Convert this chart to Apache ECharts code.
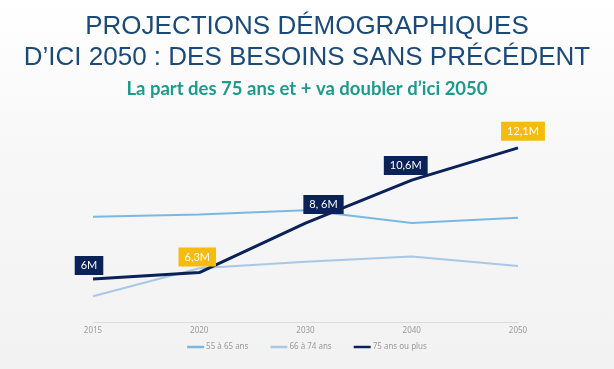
<!DOCTYPE html>
<html><head><meta charset="utf-8">
<script src="https://cdn.jsdelivr.net/npm/echarts@6/dist/echarts.min.js"></script>
<style>html,body{margin:0;padding:0;}#c{width:614px;height:369px;}</style>
</head><body><div id="c"></div>
<script>
const years = ['2015','2020','2030','2040','2050'];
const s55 = [8.9, 9.0, 9.2, 8.6, 8.85];
const s66 = [5.2, 6.5, 6.8, 7.05, 6.6];
const s75 = [6.0, 6.3, 8.6, 10.6, 12.1];
const s75Labels = ['6M','6,3M','8, 6M','10,6M','12,1M'];
const names = ['55 à 65 ans','66 à 74 ans','75 ans ou plus'];

const NAVY = '#0b2258', GOLD = '#f6bb0f';
const labelStyle = [
  {bg: NAVY, off: [-4, 0], dist: 4},
  {bg: GOLD, off: [-2, 0], dist: 6},
  {bg: NAVY, off: [18, 0], dist: 9},
  {bg: NAVY, off: [-6, 0], dist: 5},
  {bg: GOLD, off: [5, 0], dist: 7}
];

const chart = echarts.init(document.getElementById('c'));
chart.setOption({
  animation: false,
  backgroundColor: {type:'linear', x:0, y:0, x2:0, y2:1, colorStops:[{offset:0,color:'#ffffff'},{offset:0.45,color:'#f7f7f7'},{offset:1,color:'#f2f2f2'}]},
  title: [
    {text: 'PROJECTIONS DÉMOGRAPHIQUES\nD’ICI 2050 : DES BESOINS SANS PRÉCÉDENT', left: 'center', top: 6,
     textStyle: {fontFamily: 'Liberation Sans', fontWeight: 'normal', fontSize: 26, lineHeight: 31, color: '#1b4a78'}},
    {text: 'La part des 75 ans et + va doubler d’ici 2050', left: 'center', top: 75,
     textStyle: {fontFamily: 'Lato', fontWeight: 'bold', fontSize: 18.5, color: '#1e9a8c'}}
  ],
  grid: {left: 93, right: 96, top: 128.5, bottom: 47},
  xAxis: {type: 'category', data: years, boundaryGap: false,
    axisLine: {lineStyle: {color: '#dcdcdc', width: 1}}, axisTick: {show: false},
    axisLabel: {color: '#999', fontSize: 8, fontFamily: 'Noto Sans', margin: 5}},
  yAxis: {type: 'value', min: 4, max: 13, show: false, splitLine: {show: false}},
  legend: {bottom: 13, left: 'center', itemWidth: 17, itemHeight: 2.5, itemGap: 22, icon: 'rect',
    textStyle: {color: '#999', fontSize: 8, fontFamily: 'Noto Sans', padding: [0,0,0,-3]},
    data: names},
  series: [
    {name: names[0], type: 'line', data: s55, showSymbol: false, lineStyle: {color: '#7ab8e3', width: 2}, itemStyle: {color: '#7ab8e3'}, z: 2},
    {name: names[1], type: 'line', data: s66, showSymbol: false, lineStyle: {color: '#a8c8e6', width: 2}, itemStyle: {color: '#a8c8e6'}, z: 2},
    {name: names[2], type: 'line', symbolSize: 0, showSymbol: true, lineStyle: {color: NAVY, width: 3}, itemStyle: {color: NAVY}, z: 3,
     data: s75.map((v, i) => ({value: v, label: {show: true, position: 'top', formatter: s75Labels[i],
       distance: labelStyle[i].dist, offset: labelStyle[i].off, backgroundColor: labelStyle[i].bg,
       color: '#fff', fontFamily: 'Lato', fontSize: 11, padding: [4, 6, 4, 6]}}))}
  ]
});
</script></body></html>
